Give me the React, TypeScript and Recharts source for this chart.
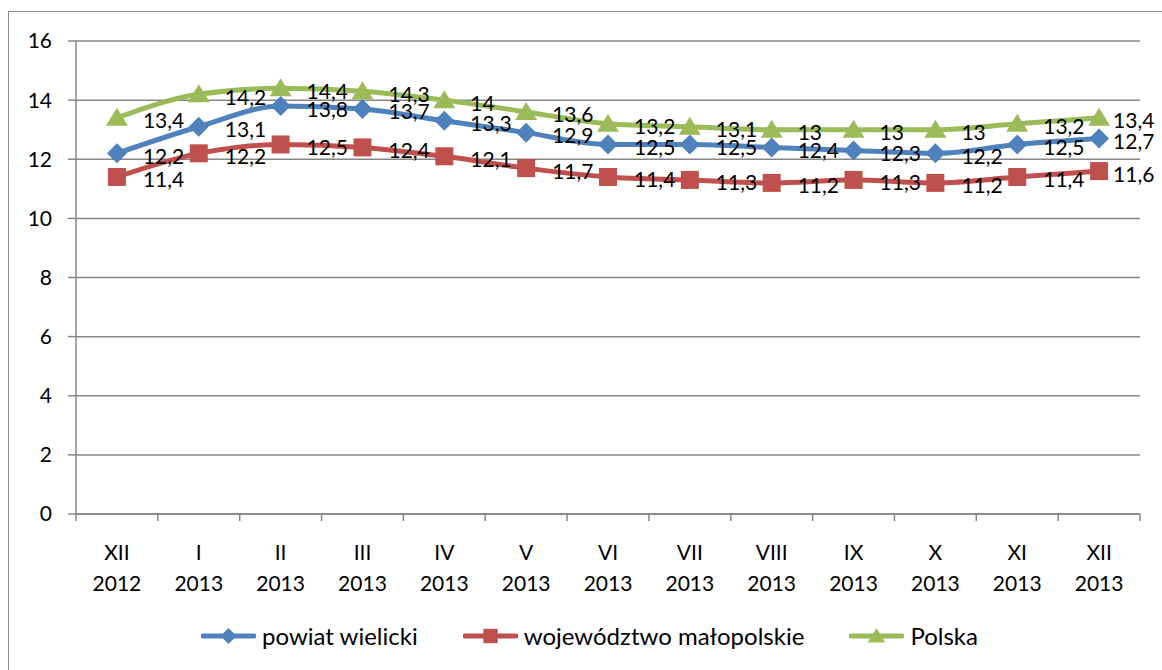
import { LineChart, Line, XAxis, YAxis, CartesianGrid, Legend, LabelList } from "recharts"

const months = ["XII", "I", "II", "III", "IV", "V", "VI", "VII", "VIII", "IX", "X", "XI", "XII"]
const years = ["2012", "2013", "2013", "2013", "2013", "2013", "2013", "2013", "2013", "2013", "2013", "2013", "2013"]

const powiat = [12.2, 13.1, 13.8, 13.7, 13.3, 12.9, 12.5, 12.5, 12.4, 12.3, 12.2, 12.5, 12.7]
const wojewodztwo = [11.4, 12.2, 12.5, 12.4, 12.1, 11.7, 11.4, 11.3, 11.2, 11.3, 11.2, 11.4, 11.6]
const polska = [13.4, 14.2, 14.4, 14.3, 14, 13.6, 13.2, 13.1, 13, 13, 13, 13.2, 13.4]

const yTicks = [0, 2, 4, 6, 8, 10, 12, 14, 16]
// category centres plus the boundaries between them (Excel puts tick marks between categories)
const xTicks = [-0.5, 0, 0.5, 1, 1.5, 2, 2.5, 3, 3.5, 4, 4.5, 5, 5.5, 6, 6.5, 7, 7.5, 8, 8.5, 9, 9.5, 10, 10.5, 11, 11.5, 12, 12.5]

const FONT = "Lato, 'Open Sans', sans-serif"
const GRID = "#868686"

const SERIES = [
  { key: "powiat", name: "powiat wielicki", color: "#4F81BD", shape: "diamond" },
  { key: "woj", name: "województwo małopolskie", color: "#C0504D", shape: "square" },
  { key: "pl", name: "Polska", color: "#9BBB59", shape: "triangle" },
]

const data = months.map((m, i) => ({
  idx: i,
  powiat: powiat[i],
  woj: wojewodztwo[i],
  pl: polska[i],
}))

function Marker({ cx, cy, shape, color, s }: any) {
  if (cx == null || cy == null) return null
  if (shape === "diamond") {
    return <polygon points={`${cx},${cy - s} ${cx + s},${cy} ${cx},${cy + s} ${cx - s},${cy}`} fill={color} />
  }
  if (shape === "square") {
    return <rect x={cx - s * 0.9} y={cy - s * 0.9} width={s * 1.8} height={s * 1.8} fill={color} />
  }
  return <polygon points={`${cx},${cy - s} ${cx + s * 1.1},${cy + s * 0.8} ${cx - s * 1.1},${cy + s * 0.8}`} fill={color} />
}

function XTick({ x, y, payload }: any) {
  const v = payload.value
  if (!Number.isInteger(v)) {
    return <line x1={x} y1={y} x2={x} y2={y + 7} stroke={GRID} strokeWidth={1.5} />
  }
  return (
    <g>
      <text x={x} y={y + 37} textAnchor="middle" dominantBaseline="central" fontSize={21} fontFamily={FONT} fill="#000">
        {months[v]}
      </text>
      <text x={x} y={y + 68} textAnchor="middle" dominantBaseline="central" fontSize={21} fontFamily={FONT} fill="#000">
        {years[v]}
      </text>
    </g>
  )
}

function ValueLabel({ x, y, value, index }: any) {
  // Excel pulls the last labels in so they stay inside the chart
  const dx = index === months.length - 1 ? 14 : 26
  return (
    <text x={x + dx} y={y + 2} dominantBaseline="central" fontSize={21} fontFamily={FONT} fill="#000">
      {String(value).replace(".", ",")}
    </text>
  )
}

function LegendBox() {
  return (
    <div style={{ height: 40, paddingTop: 24, paddingLeft: 30, boxSizing: "border-box", display: "flex", justifyContent: "center", gap: 45, fontFamily: FONT, fontSize: 24, lineHeight: "26px", color: "#000" }}>
      {SERIES.map((s) => (
        <div key={s.key} style={{ display: "flex", alignItems: "center", gap: 6 }}>
          <svg width={55} height={26}>
            <line x1={2} y1={13} x2={53} y2={13} stroke={s.color} strokeWidth={5} strokeLinecap="round" />
            <Marker cx={27.5} cy={13} shape={s.shape} color={s.color} s={8} />
          </svg>
          <span>{s.name}</span>
        </div>
      ))}
    </div>
  )
}

export default function App() {
  return (
    <div style={{ position: "fixed", left: 8, top: 11, width: 1160, height: 662, border: "1px solid #8c8c8c", overflow: "hidden", background: "#fff" }}>
      <LineChart width={1160} height={660} data={data} margin={{ top: 29, right: 29, bottom: 28, left: 0 }}>
        <CartesianGrid horizontal vertical={false} stroke={GRID} strokeWidth={1.5} />
        <XAxis
          dataKey="idx"
          type="number"
          domain={[-0.5, 12.5]}
          ticks={xTicks}
          interval={0}
          tickLine={false}
          tickSize={0}
          tickMargin={0}
          height={90}
          axisLine={{ stroke: GRID, strokeWidth: 1.5 }}
          tick={<XTick />}
        />
        <YAxis
          domain={[0, 16]}
          ticks={yTicks}
          interval={0}
          width={67}
          tickSize={8}
          tickMargin={16}
          axisLine={{ stroke: GRID, strokeWidth: 1.5 }}
          tickLine={{ stroke: GRID, strokeWidth: 1.5 }}
          tick={{ fontSize: 21, fontFamily: FONT, fill: "#000" }}
        />
        <Legend verticalAlign="bottom" content={<LegendBox />} />
        {SERIES.map((s) => (
          <Line
            key={s.key}
            dataKey={s.key}
            name={s.name}
            stroke={s.color}
            strokeWidth={5}
            type="monotone"
            isAnimationActive={false}
            dot={(p: any) => <Marker key={`${s.key}-${p.index}`} cx={p.cx} cy={p.cy} shape={s.shape} color={s.color} s={10} />}
            activeDot={false}
          >
            <LabelList dataKey={s.key} content={<ValueLabel />} />
          </Line>
        ))}
      </LineChart>
    </div>
  )
}
